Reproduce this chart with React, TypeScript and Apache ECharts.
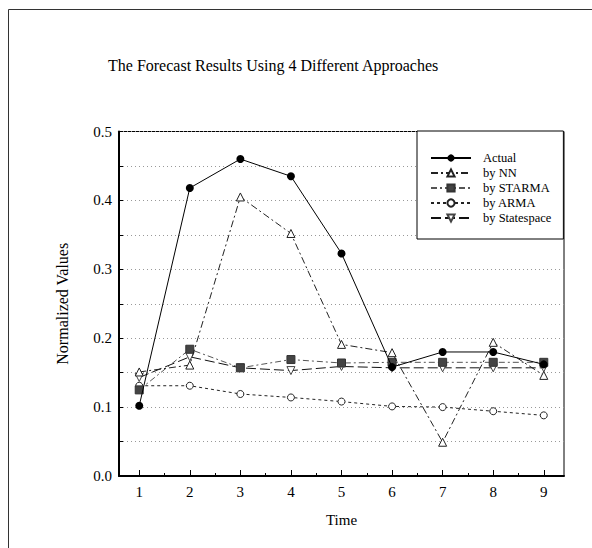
import React, { useEffect, useRef } from "react";
import * as echarts from "echarts";

const timePoints = [1, 2, 3, 4, 5, 6, 7, 8, 9];
const actual = [0.102, 0.418, 0.46, 0.435, 0.323, 0.158, 0.18, 0.18, 0.162];
const byNN = [0.151, 0.161, 0.405, 0.352, 0.191, 0.179, 0.049, 0.194, 0.146];
const bySTARMA = [0.125, 0.184, 0.157, 0.169, 0.164, 0.165, 0.165, 0.165, 0.165];
const byARMA = [0.131, 0.131, 0.119, 0.114, 0.108, 0.101, 0.1, 0.094, 0.088];
const byStatespace = [0.143, 0.173, 0.157, 0.153, 0.159, 0.157, 0.157, 0.157, 0.157];
const xMajorTicks = [1, 2, 3, 4, 5, 6, 7, 8, 9];
const xMinorTicks = [1.5, 2.5, 3.5, 4.5, 5.5, 6.5, 7.5, 8.5];
const seriesNames = ["Actual", "by NN", "by STARMA", "by ARMA", "by Statespace"];

const FONT = "Liberation Serif";

const pairs = (ys: number[]) => timePoints.map((t, i) => [t, ys[i]]);

export default function App() {
  const ref = useRef<HTMLDivElement>(null);
  useEffect(() => {
    document.body.style.margin = "0";
    const chart = echarts.init(ref.current!, null, { renderer: "svg" });
    const xBase = {
      type: "value",
      min: 0.6,
      max: 9.4,
      position: "bottom",
      splitLine: { show: false },
    };
    chart.setOption({
      animation: false,
      backgroundColor: "#fff",
      title: {
        text: "The Forecast Results Using 4 Different Approaches",
        left: 103,
        top: 52,
        textStyle: { fontFamily: FONT, fontSize: 16, fontWeight: "normal", color: "#000" },
      },
      graphic: [
        {
          type: "rect",
          shape: { x: 8.5, y: 9.5, width: 800, height: 800 },
          style: { fill: "none", stroke: "#333", lineWidth: 1 },
          silent: true,
        },
      ],
      grid: {
        left: 119,
        right: 28,
        top: 131.5,
        bottom: 72,
        show: true,
        borderColor: "#000",
        borderWidth: 1,
        backgroundColor: "transparent",
      },
      legend: {
        orient: "vertical",
        left: 417,
        top: 131,
        data: seriesNames,
        backgroundColor: "#fff",
        borderColor: "#000",
        borderWidth: 1,
        padding: [20, 12, 14, 13],
        itemWidth: 40,
        itemHeight: 9,
        itemGap: 1,
        textStyle: {
          fontFamily: FONT,
          fontSize: 12.5,
          color: "#000",
          lineHeight: 14,
          padding: [0, 0, 0, 7],
        },
      },
      xAxis: [
        {
          ...xBase,
          name: "Time",
          nameLocation: "middle",
          nameGap: 36,
          nameTextStyle: { fontFamily: FONT, fontSize: 15, color: "#000" },
          axisLine: { show: true, lineStyle: { color: "#000", width: 2 } },
          axisTick: { show: true, inside: true, length: 6, customValues: xMajorTicks, lineStyle: { color: "#000" } },
          axisLabel: {
            show: true,
            customValues: xMajorTicks,
            margin: 8,
            fontFamily: FONT,
            fontSize: 15,
            color: "#000",
          },
        },
        {
          ...xBase,
          axisLine: { show: false },
          axisTick: { show: true, inside: true, length: 3, customValues: xMinorTicks, lineStyle: { color: "#000" } },
          axisLabel: { show: false },
        },
      ],
      yAxis: {
        type: "value",
        min: 0,
        max: 0.5,
        interval: 0.05,
        name: "Normalized Values",
        nameLocation: "middle",
        nameGap: 49,
        nameTextStyle: { fontFamily: FONT, fontSize: 16, color: "#000" },
        axisLine: { show: true, lineStyle: { color: "#000", width: 2 } },
        axisTick: { show: true, inside: true, length: 4, lineStyle: { color: "#000" } },
        axisLabel: {
          margin: 7,
          fontFamily: FONT,
          fontSize: 15,
          color: "#000",
          formatter: (v: number) => (Math.round(v * 100) % 10 === 0 ? v.toFixed(1) : ""),
        },
        splitLine: { show: true, lineStyle: { color: "#999", width: 1, type: [1, 3] } },
      },
      series: [
        {
          name: "Actual",
          type: "line",
          data: pairs(actual),
          symbol: "circle",
          symbolSize: 8,
          itemStyle: { color: "#000" },
          lineStyle: { color: "#000", width: 1, type: "solid" },
          z: 6,
        },
        {
          name: "by NN",
          type: "line",
          data: pairs(byNN),
          symbol: "triangle",
          symbolSize: 8,
          itemStyle: { color: "#fff", borderColor: "#222", borderWidth: 1 },
          lineStyle: { color: "#222", width: 1, type: [7, 3, 2, 3] },
          z: 5,
        },
        {
          name: "by STARMA",
          type: "line",
          data: pairs(bySTARMA),
          symbol: "rect",
          symbolSize: 8,
          itemStyle: { color: "#444", borderColor: "#333", borderWidth: 1 },
          lineStyle: { color: "#555", width: 1, type: [6, 3, 2, 3] },
          z: 4,
        },
        {
          name: "by ARMA",
          type: "line",
          data: pairs(byARMA),
          symbol: "circle",
          symbolSize: 7,
          itemStyle: { color: "#fff", borderColor: "#222", borderWidth: 1 },
          lineStyle: { color: "#222", width: 1, type: [3, 3] },
          z: 3,
        },
        {
          name: "by Statespace",
          type: "line",
          data: pairs(byStatespace),
          symbol: "triangle",
          symbolRotate: 180,
          symbolSize: 8,
          itemStyle: { color: "#fff", borderColor: "#444", borderWidth: 1 },
          lineStyle: { color: "#111", width: 1, type: [10, 4] },
          z: 3,
        },
      ],
    });
    return () => chart.dispose();
  }, []);
  return (
    <div
      ref={ref}
      style={{ position: "absolute", left: 0, top: 0, width: 592, height: 548 }}
    />
  );
}
